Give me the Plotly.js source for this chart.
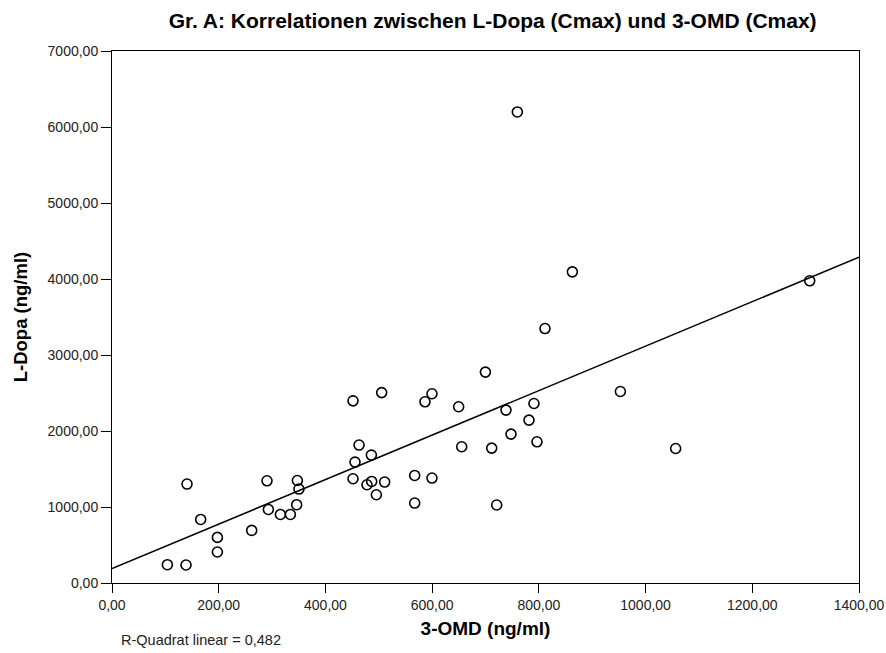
<!DOCTYPE html>
<html>
<head>
<meta charset="utf-8">
<script src="https://cdn.plot.ly/plotly-3.0.1.min.js"></script>
<style>html,body{margin:0;padding:0;background:#fff;}#chart{width:886px;height:653px;}</style>
</head>
<body>
<div id="chart"></div>
<script>
// 3-OMD (ng/ml) values
var omd = [103.8, 138.7, 140.6, 166.2, 197.5, 197.5, 261.8, 290.5, 293.1, 315.6,
           334.3, 346.1, 347.4, 350.4, 451.7, 455.4, 463.0, 486.1, 477.9, 486.7,
           495.5, 511.0, 567.3, 567.3, 699.8, 599.7, 586.6, 649.7, 738.4, 790.8,
           781.5, 747.8, 796.5, 655.4, 711.6, 952.8, 599.7, 721.0, 1307.6, 1056.4,
           451.7, 505.4, 759.7, 862.8, 811.5];
// L-Dopa (ng/ml) values
var ldopa = [241, 237, 1302, 836, 600, 408, 692, 1345, 968, 902,
             902, 1030, 1349, 1236, 1372, 1591, 1815, 1683, 1293, 1336,
             1161, 1328, 1415, 1052, 2775, 2490, 2384, 2319, 2275, 2362,
             2143, 1959, 1858, 1793, 1775, 2520, 1381, 1026, 3976, 1770,
             2397, 2505, 6198, 4094, 3348];
var xTicks = [0, 200, 400, 600, 800, 1000, 1200, 1400];
var yTicks = [0, 1000, 2000, 3000, 4000, 5000, 6000, 7000];
var fitRange = [0, 1400];
var rSquaredText = "R-Quadrat linear = 0,482";

// least-squares fit
var n = omd.length, sx = 0, sy = 0, sxx = 0, sxy = 0;
for (var i = 0; i < n; i++) { sx += omd[i]; sy += ldopa[i]; sxx += omd[i]*omd[i]; sxy += omd[i]*ldopa[i]; }
var slope = (n*sxy - sx*sy) / (n*sxx - sx*sx);
var intercept = (sy - slope*sx) / n;
var fitY = fitRange.map(function(x){ return intercept + slope*x; });

var font = "Liberation Sans, Arial, sans-serif";
var traces = [
  {x: fitRange, y: fitY, mode: 'lines', type: 'scatter',
   line: {color: '#000', width: 1.5}, hoverinfo: 'skip'},
  {x: omd, y: ldopa, mode: 'markers', type: 'scatter',
   marker: {symbol: 'circle-open', size: 10, color: '#000', line: {color: '#000', width: 1.6}},
   cliponaxis: false}
];
var axisCommon = {
  showgrid: false, zeroline: false, showline: true, mirror: true,
  linecolor: '#000', linewidth: 1, ticks: 'outside', tickcolor: '#000', tickwidth: 1,
  tickformat: '.2f', tickfont: {family: font, size: 14, color: '#222'}, automargin: false
};
var layout = {
  width: 886, height: 653,
  paper_bgcolor: '#fff', plot_bgcolor: '#fff',
  separators: ',.',
  showlegend: false,
  margin: {l: 112, r: 27, t: 51, b: 70},
  title: {text: 'Gr. A: Korrelationen zwischen L-Dopa (Cmax) und 3-OMD (Cmax)',
          font: {family: font, size: 21, color: '#000', weight: 'bold'},
          xref: 'container', x: 0.556, xanchor: 'center',
          yref: 'container', y: 0.969, yanchor: 'middle'},
  xaxis: Object.assign({}, axisCommon, {
    range: [0, 1400], tickvals: xTicks, ticklen: 9,
    title: {text: '3-OMD (ng/ml)', font: {family: font, size: 19, color: '#000', weight: 'bold'}, standoff: 9}
  }),
  yaxis: Object.assign({}, axisCommon, {
    range: [0, 7000], tickvals: yTicks, ticklen: 10,
    title: {text: 'L-Dopa (ng/ml)', font: {family: font, size: 18.5, color: '#000', weight: 'bold'}, standoff: 15}
  }),
  annotations: [{
    text: rSquaredText, xref: 'paper', yref: 'paper', x: 0.009, y: -0.108,
    xanchor: 'left', yanchor: 'middle', showarrow: false,
    font: {family: font, size: 14.5, color: '#222'}
  }]
};
Plotly.newPlot('chart', traces, layout, {displayModeBar: false, staticPlot: true});
</script>
</body>
</html>
